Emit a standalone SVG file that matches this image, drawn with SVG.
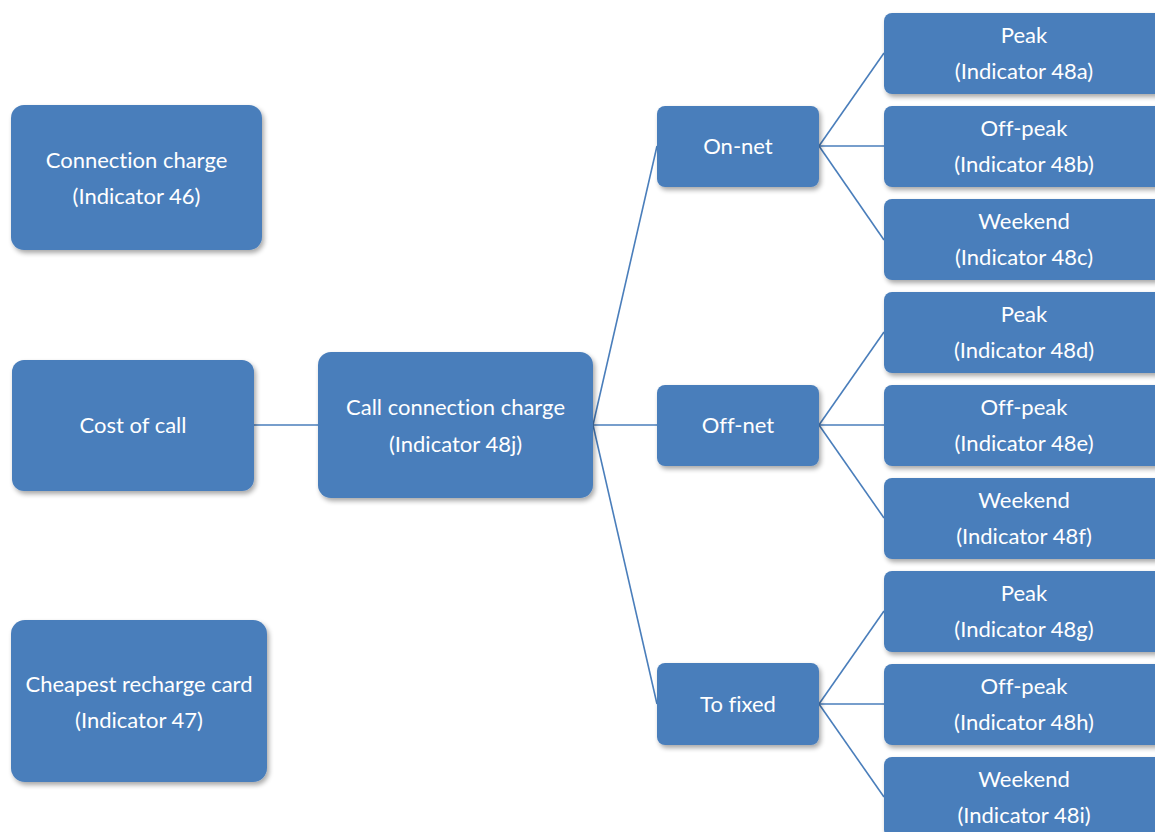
<svg xmlns="http://www.w3.org/2000/svg" width="1155" height="832" viewBox="0 0 1155 832">
  <style>
    .box { fill: #4a7ebb; filter: url(#shadow); }
    .lbl { fill: #ffffff; font-family: Lato, "Open Sans", "Liberation Sans", sans-serif; font-size: 22px; text-anchor: middle; font-variant-ligatures: none; }
    .link { stroke: #4a7ebb; stroke-width: 1.6; fill: none; }
  </style>
  <defs>
    <filter id="shadow" x="-10%" y="-10%" width="125%" height="130%">
      <feGaussianBlur in="SourceAlpha" stdDeviation="2.5"/>
      <feOffset dx="1.5" dy="3" result="b"/>
      <feComponentTransfer><feFuncA type="linear" slope="0.35"/></feComponentTransfer>
      <feMerge><feMergeNode/><feMergeNode in="SourceGraphic"/></feMerge>
    </filter>
  </defs>
  <rect width="1155" height="832" fill="#ffffff"/>

  <g id="connectors">
    <line class="link" x1="254" y1="425" x2="318" y2="425"/>
    <line class="link" x1="593" y1="425" x2="657" y2="146"/>
    <line class="link" x1="593" y1="425" x2="657" y2="425"/>
    <line class="link" x1="593" y1="425" x2="657" y2="704"/>
    <line class="link" x1="819" y1="146" x2="884" y2="53"/>
    <line class="link" x1="819" y1="146" x2="884" y2="146"/>
    <line class="link" x1="819" y1="146" x2="884" y2="240"/>
    <line class="link" x1="819" y1="425" x2="884" y2="332"/>
    <line class="link" x1="819" y1="425" x2="884" y2="425"/>
    <line class="link" x1="819" y1="425" x2="884" y2="518"/>
    <line class="link" x1="819" y1="704" x2="884" y2="611"/>
    <line class="link" x1="819" y1="704" x2="884" y2="704"/>
    <line class="link" x1="819" y1="704" x2="884" y2="797"/>
  </g>

  <g id="connection-charge">
    <rect class="box" x="11" y="105" width="251" height="145" rx="13"/>
    <text class="lbl" x="136.5" y="168">Connection charge</text>
    <text class="lbl" x="136.5" y="204">(Indicator 46)</text>
  </g>
  <g id="cost-of-call">
    <rect class="box" x="12" y="360" width="242" height="131" rx="12"/>
    <text class="lbl" x="133" y="433">Cost of call</text>
  </g>
  <g id="cheapest-recharge-card">
    <rect class="box" x="11" y="620" width="256" height="162" rx="14"/>
    <text class="lbl" x="139" y="692">Cheapest recharge card</text>
    <text class="lbl" x="139" y="728">(Indicator 47)</text>
  </g>
  <g id="call-connection-charge">
    <rect class="box" x="318" y="352" width="275" height="146" rx="13"/>
    <text class="lbl" x="455.5" y="415">Call connection charge</text>
    <text class="lbl" x="455.5" y="452">(Indicator 48j)</text>
  </g>

  <g id="on-net">
    <rect class="box" x="657" y="106" width="162" height="81" rx="8"/>
    <text class="lbl" x="738" y="154">On-net</text>
  </g>
  <g id="off-net">
    <rect class="box" x="657" y="385" width="162" height="81" rx="8"/>
    <text class="lbl" x="738" y="433">Off-net</text>
  </g>
  <g id="to-fixed">
    <rect class="box" x="657" y="663" width="162" height="82" rx="8"/>
    <text class="lbl" x="738" y="712">To fixed</text>
  </g>

  <g id="on-net-peak">
    <rect class="box" x="884" y="13" width="285" height="81" rx="8"/>
    <text class="lbl" x="1024" y="43">Peak</text>
    <text class="lbl" x="1024" y="79">(Indicator 48a)</text>
  </g>
  <g id="on-net-off-peak">
    <rect class="box" x="884" y="106" width="285" height="81" rx="8"/>
    <text class="lbl" x="1024" y="136">Off-peak</text>
    <text class="lbl" x="1024" y="172">(Indicator 48b)</text>
  </g>
  <g id="on-net-weekend">
    <rect class="box" x="884" y="199" width="285" height="81" rx="8"/>
    <text class="lbl" x="1024" y="229">Weekend</text>
    <text class="lbl" x="1024" y="265">(Indicator 48c)</text>
  </g>
  <g id="off-net-peak">
    <rect class="box" x="884" y="292" width="285" height="81" rx="8"/>
    <text class="lbl" x="1024" y="322">Peak</text>
    <text class="lbl" x="1024" y="358">(Indicator 48d)</text>
  </g>
  <g id="off-net-off-peak">
    <rect class="box" x="884" y="385" width="285" height="81" rx="8"/>
    <text class="lbl" x="1024" y="415">Off-peak</text>
    <text class="lbl" x="1024" y="451">(Indicator 48e)</text>
  </g>
  <g id="off-net-weekend">
    <rect class="box" x="884" y="478" width="285" height="81" rx="8"/>
    <text class="lbl" x="1024" y="508">Weekend</text>
    <text class="lbl" x="1024" y="544">(Indicator 48f)</text>
  </g>
  <g id="to-fixed-peak">
    <rect class="box" x="884" y="571" width="285" height="81" rx="8"/>
    <text class="lbl" x="1024" y="601">Peak</text>
    <text class="lbl" x="1024" y="637">(Indicator 48g)</text>
  </g>
  <g id="to-fixed-off-peak">
    <rect class="box" x="884" y="664" width="285" height="81" rx="8"/>
    <text class="lbl" x="1024" y="694">Off-peak</text>
    <text class="lbl" x="1024" y="730">(Indicator 48h)</text>
  </g>
  <g id="to-fixed-weekend">
    <rect class="box" x="884" y="757" width="285" height="81" rx="8"/>
    <text class="lbl" x="1024" y="787">Weekend</text>
    <text class="lbl" x="1024" y="823">(Indicator 48i)</text>
  </g>
</svg>
